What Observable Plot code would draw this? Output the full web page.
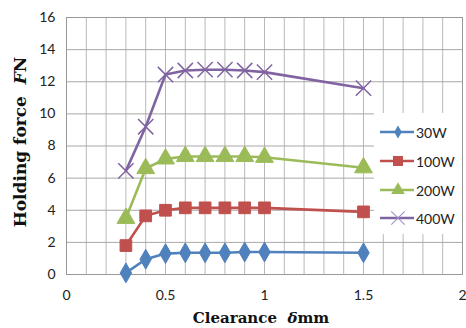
<!DOCTYPE html>
<html><head><meta charset="utf-8">
<script src="https://cdn.jsdelivr.net/npm/d3@7"></script>
<script src="https://cdn.jsdelivr.net/npm/@observablehq/plot@0.6"></script>
<style>
body{margin:0;background:#fff;}
#wrap{position:relative;width:466px;height:328px;}
#legend{position:absolute;left:374px;top:113px;width:88px;height:121px;background:#fff;font:14px Lato, "Open Sans", sans-serif;color:#222;}
.item{position:absolute;left:4px;height:20px;display:flex;align-items:center;}
.item svg{margin-right:2px;}
</style>
</head><body>
<div id="wrap"><div id="legend"></div></div>
<script>
const clearance = [0.3, 0.4, 0.5, 0.6, 0.7, 0.8, 0.9, 1.0, 1.5];
const seriesNames = ["30W", "100W", "200W", "400W"];
const f30 = [0.1, 0.95, 1.3, 1.35, 1.35, 1.35, 1.4, 1.4, 1.35];
const f100 = [1.8, 3.65, 4.0, 4.15, 4.15, 4.15, 4.15, 4.15, 3.9];
const f200 = [3.5, 6.6, 7.2, 7.35, 7.35, 7.35, 7.35, 7.3, 6.65];
const f400 = [6.45, 9.2, 12.45, 12.7, 12.75, 12.75, 12.7, 12.6, 11.6];
const xTicks = [0, 0.5, 1, 1.5, 2];
const yTicks = [0, 2, 4, 6, 8, 10, 12, 14, 16];

const colors = ["#4F81BD", "#C0504D", "#9BBB59", "#8064A2"];
const symbols = ["diamond", "square", "triangle", "times"];
const values = [f30, f100, f200, f400];
const data = [];
seriesNames.forEach((s, i) => values[i].forEach((v, j) => data.push({series: s, x: clearance[j], y: v})));

const minorX = d3.range(0, 21).map(i => i / 10);

const plot = Plot.plot({
  width: 466, height: 328,
  marginLeft: 66, marginRight: 4, marginTop: 17, marginBottom: 54,
  style: {fontFamily: "Lato, 'Open Sans', sans-serif", fontSize: "14px", color: "#222"},
  x: {domain: [0, 2]},
  y: {domain: [0, 16]},
  color: {domain: seriesNames, range: colors},
  symbol: {domain: seriesNames, range: symbols},
  marks: [
    Plot.gridX(minorX, {stroke: "#b8b8b8", strokeOpacity: 1, strokeWidth: 1}),
    Plot.gridY(yTicks, {stroke: "#a8a8a8", strokeOpacity: 1, strokeWidth: 1}),
    Plot.frame({stroke: "#999"}),
    Plot.axisX(xTicks, {tickSize: 0, tickPadding: 16, fontSize: 14, label: null, tickFormat: d => String(d)}),
    Plot.axisY(yTicks, {tickSize: 0, tickPadding: 11, fontSize: 14, label: null, tickFormat: d => String(d)}),
    Plot.line(data, {x: "x", y: "y", z: "series", stroke: "series", strokeWidth: 2.6}),
    Plot.dot(data.filter(d => d.series === "30W"), {x: "x", y: "y", symbol: "series", fill: "series", stroke: "series", strokeWidth: 1, r: 6}),
    Plot.dot(data.filter(d => d.series === "100W" || d.series === "200W"), {x: "x", y: "y", symbol: "series", fill: "series", stroke: "series", strokeWidth: 1, r: 6.6}),
    Plot.dot(data.filter(d => d.series === "400W"), {x: "x", y: "y", symbol: "series", stroke: "series", strokeWidth: 1.5, r: 7})
  ]
});
document.getElementById("wrap").prepend(plot);

const svg = d3.select(plot);
const yt = svg.append("text")
  .attr("transform", "translate(26,142) rotate(-90)")
  .attr("text-anchor", "middle")
  .attr("font-family", "'DejaVu Serif', serif").attr("font-weight", "bold").attr("font-size", 17).attr("fill", "#111");
yt.append("tspan").text("Holding force  ");
yt.append("tspan").attr("font-style", "italic").text("F");
yt.append("tspan").text("N");
const xt = svg.append("text")
  .attr("x", 261).attr("y", 323)
  .attr("text-anchor", "middle")
  .attr("font-family", "'DejaVu Serif', serif").attr("font-weight", "bold").attr("font-size", 15).attr("fill", "#111");
xt.append("tspan").text("Clearance  ");
xt.append("tspan").attr("font-style", "italic").text("δ");
xt.append("tspan").text("mm");

// legend
const legend = document.getElementById("legend");
const tops = [9, 38, 67, 95];
seriesNames.forEach((s, i) => {
  const item = document.createElement("div");
  item.className = "item";
  item.style.top = tops[i] + "px";
  const sv = d3.create("svg").attr("width", 36).attr("height", 20);
  sv.append("line").attr("x1", 2).attr("x2", 36).attr("y1", 10).attr("y2", 10).attr("stroke", colors[i]).attr("stroke-width", 2.6);
  const symMap = {diamond: d3.symbolDiamond, square: d3.symbolSquare, triangle: d3.symbolTriangle, times: d3.symbolTimes};
  const sizes = [50, 100, 80, 120];
  const p = sv.append("path").attr("transform", "translate(20,10)")
    .attr("d", d3.symbol(symMap[symbols[i]], sizes[i])());
  if (i === 3) p.attr("fill", "none").attr("stroke", "#a090c8").attr("stroke-width", 1.1);
  else p.attr("fill", colors[i]);
  item.appendChild(sv.node());
  const t = document.createElement("span");
  t.textContent = s;
  item.appendChild(t);
  legend.appendChild(item);
});
</script>
</body></html>
